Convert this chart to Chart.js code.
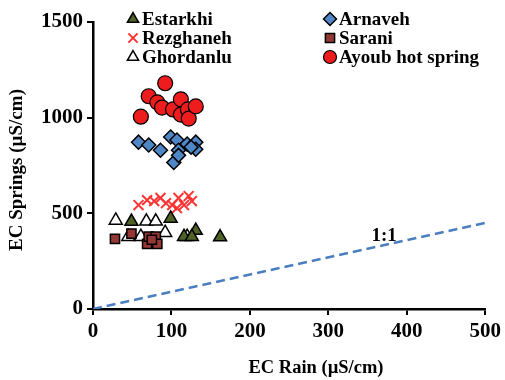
<!DOCTYPE html>
<html>
<head>
<meta charset="utf-8">
<script src="https://cdn.jsdelivr.net/npm/chart.js@4.4.0/dist/chart.umd.min.js"></script>
<style>
  html, body { margin: 0; padding: 0; background: #fff; }
  #wrap { width: 505px; height: 380px; }
</style>
</head>
<body>
<div id="wrap"><canvas id="myChart"></canvas></div>
<script>
// EC Rain (x) vs EC Springs (y), uS/cm
const estarkhiX = [49, 99, 131, 116, 126, 162];
const estarkhiY = [457, 473, 410, 378, 378, 376];
const arnavehX = [58, 71, 86, 99, 107, 109, 120, 131, 103, 109, 131, 125];
const arnavehY = [872, 857, 830, 899, 883, 830, 862, 872, 766, 803, 835, 846];
const rezghanehX = [58, 69, 78, 86, 93, 101, 109, 116, 122, 126, 107];
const rezghanehY = [543, 569, 564, 580, 553, 543, 580, 543, 590, 564, 527];
const saraniX = [28, 49, 69, 71, 80, 82, 75];
const saraniY = [367, 394, 340, 378, 378, 340, 362];
const ghordanluX = [29, 68, 80, 45, 61, 92, 120];
const ghordanluY = [463, 458, 458, 378, 378, 399, 378];
const ayoubX = [61, 71, 82, 88, 92, 102, 112, 112, 121, 122, 131];
const ayoubY = [1005, 1112, 1080, 1053, 1180, 1043, 1096, 1016, 1043, 995, 1059];
const lineX = [0, 500];
const lineY = [0, 450];

const xTicks = [0, 100, 200, 300, 400, 500];
const yTicks = [0, 500, 1000, 1500];

const pts = (xs, ys) => xs.map((x, i) => ({ x: x, y: ys[i] }));
const serif = '"Liberation Serif", "Times New Roman", serif';

const series = [
  { label: 'Estarkhi', xs: estarkhiX, ys: estarkhiY, style: 'triangle', fill: '#4f6228', stroke: '#000', r: 7.5, bw: 1.5 },
  { label: 'Arnaveh', xs: arnavehX, ys: arnavehY, style: 'rectRot', fill: '#4f86c6', stroke: '#000', r: 7, bw: 1.5 },
  { label: 'Rezghaneh', xs: rezghanehX, ys: rezghanehY, style: 'crossRot', fill: '#ff3333', stroke: '#ff3333', r: 7, bw: 2 },
  { label: 'Sarani', xs: saraniX, ys: saraniY, style: 'rect', fill: '#953735', stroke: '#000', r: 6.5, bw: 1.5 },
  { label: 'Ghordanlu', xs: ghordanluX, ys: ghordanluY, style: 'triangle', fill: '#ffffff', stroke: '#000', r: 7.5, bw: 1.5 },
  { label: 'Ayoub hot spring', xs: ayoubX, ys: ayoubY, style: 'circle', fill: '#ee1c1c', stroke: '#000', r: 7.5, bw: 1.2 }
];

// two-column legend, axis titles and the 1:1 label
const legendPlugin = {
  id: 'twoColLegend',
  afterDraw(chart) {
    const ctx = chart.ctx;
    const cols = [133, 330];
    const rows = [19, 38, 57];
    ctx.save();
    ctx.font = 'bold 19px ' + serif;
    ctx.textBaseline = 'middle';
    series.forEach((s, i) => {
      const cx = cols[i % 2], cy = rows[Math.floor(i / 2)];
      ctx.fillStyle = s.fill;
      ctx.strokeStyle = s.stroke;
      ctx.lineWidth = s.bw;
      Chart.helpers.drawPoint(ctx, { pointStyle: s.style, radius: 6.5, rotation: 0, borderWidth: s.bw }, cx, cy);
      ctx.fillStyle = '#000';
      ctx.fillText(s.label, cx + 9, cy + 1);
    });
    ctx.textAlign = 'center';
    ctx.font = 'bold 18.5px ' + serif;
    ctx.fillText('EC Rain (µS/cm)', 316, 368);
    ctx.save();
    ctx.translate(17, 170);
    ctx.rotate(-Math.PI / 2);
    ctx.font = 'bold 19px ' + serif;
    ctx.fillText('EC Springs (µS/cm)', 0, 0);
    ctx.restore();
    const x = chart.scales.x.getPixelForValue(371);
    const y = chart.scales.y.getPixelForValue(383);
    ctx.font = 'bold 19px ' + serif;
    ctx.fillText('1:1', x, y);
    ctx.restore();
  }
};

const datasets = series.map(s => ({
  label: s.label,
  data: pts(s.xs, s.ys),
  pointStyle: s.style,
  pointRadius: s.r,
  pointHoverRadius: s.r,
  backgroundColor: s.fill,
  borderColor: s.stroke,
  pointBorderWidth: s.bw,
  borderWidth: s.bw
}));
datasets.unshift({
  type: 'line',
  label: '1:1',
  data: pts(lineX, lineY),
  borderColor: '#4a7ebf',
  borderWidth: 2.5,
  borderDash: [9, 5],
  pointRadius: 0,
  fill: false
});

new Chart('myChart', {
  type: 'scatter',
  data: { datasets: datasets },
  options: {
    responsive: true,
    maintainAspectRatio: false,
    animation: false,
    layout: { padding: { top: 22, right: 18, left: 0, bottom: 0 } },
    plugins: { legend: { display: false }, tooltip: { enabled: false } },
    scales: {
      x: {
        type: 'linear', min: 0, max: 500,
        afterBuildTicks: s => { s.ticks = xTicks.map(v => ({ value: v })); },
        afterFit: s => { s.height = 71; },
        grid: { drawOnChartArea: false, drawTicks: true, tickLength: 6, color: '#000', lineWidth: 2 },
        border: { color: '#000', width: 2.5 },
        ticks: { color: '#000', font: { family: serif, size: 21, weight: 'bold' }, padding: 4, maxRotation: 0, callback: v => String(v) }
      },
      y: {
        type: 'linear', min: 0, max: 1500,
        afterBuildTicks: s => { s.ticks = yTicks.map(v => ({ value: v })); },
        afterFit: s => { s.width = 93; },
        grid: { drawOnChartArea: false, drawTicks: true, tickLength: 6, color: '#000', lineWidth: 2 },
        border: { color: '#000', width: 2.5 },
        ticks: { color: '#000', font: { family: serif, size: 21, weight: 'bold' }, padding: 4, callback: v => String(v) }
      }
    }
  },
  plugins: [legendPlugin]
});
</script>
</body>
</html>
